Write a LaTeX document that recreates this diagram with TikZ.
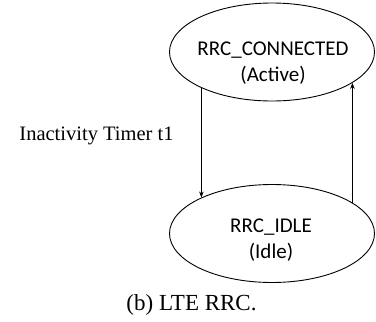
\documentclass[tikz,border=0pt]{standalone}
\usepackage{fontspec}
\setmainfont{Liberation Serif}
\newfontfamily\calib{Carlito}
\usetikzlibrary{shapes.geometric,arrows.meta}
\begin{document}
\begin{tikzpicture}[x=1pt,y=1pt,
  state/.style={draw,ellipse,line width=0.9pt,minimum width=205pt,minimum height=98pt,inner sep=0pt},
  stxt/.style={font=\calib\fontsize{21}{26}\selectfont,align=center,inner sep=0pt},
  serif/.style={font=\fontsize{20.5}{24}\selectfont,inner sep=0pt},
  conn/.style={line width=0.8pt,-{Stealth[length=6pt,width=4.5pt]}}]
\useasboundingbox (0,0) rectangle (376,-322);
\node[state] (top) at (272,-52) {};
\node[state] (bot) at (272,-233.5) {};
\node[stxt] (ttop) at (273,-63) {RRC\_CONNECTED\\(Active)};
\node[stxt] (tbot) at (271,-240) {RRC\_IDLE\\(Idle)};
\node[serif] (lab) at (96.5,-136) {Inactivity Timer t1};
\node[serif,font=\fontsize{23}{27}\selectfont] (cap) at (191.5,-305) {(b) LTE RRC.};
\draw[conn] (top.207) -- (top.207 |- bot.153);
\draw[conn] (bot.21) -- (bot.21 |- top.339);
\end{tikzpicture}
\end{document}
